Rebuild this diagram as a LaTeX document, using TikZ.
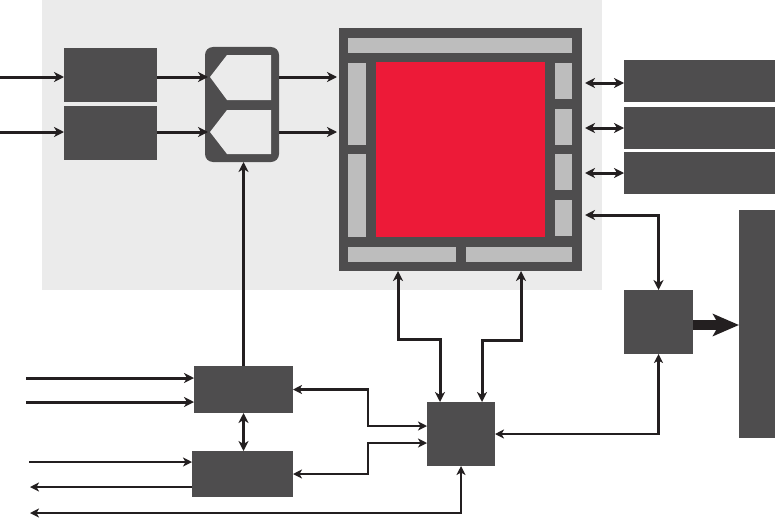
\documentclass[tikz,border=0pt]{standalone}
\usetikzlibrary{arrows.meta,calc}
\definecolor{dk}{RGB}{78,77,78}
\definecolor{lg}{RGB}{189,189,189}
\definecolor{bgc}{RGB}{235,235,235}
\definecolor{rd}{RGB}{237,26,56}
\definecolor{ln}{RGB}{35,31,32}
\newcommand\mybox[6]{\pgfmathsetmacro\myw{#5-#3}\pgfmathsetmacro\myh{#6-#4}%
  \node[#1,minimum width=\myw pt,minimum height=\myh pt] (#2) at (#3,#4) {};}
\begin{document}
\begin{tikzpicture}[x=1pt,y=-1pt,
  blk/.style={fill=dk,draw=none,inner sep=0,outer sep=0,anchor=north west},
  pad/.style={fill=lg,draw=none,inner sep=0,outer sep=0,anchor=north west},
  core/.style={fill=rd,draw=none,inner sep=0,outer sep=0,anchor=north west},
  muxbox/.style={fill=dk,draw=none,inner sep=0,outer sep=0,anchor=north west,rounded corners=8pt},
  tip/.style={Stealth[length=10pt,width=10pt,inset=3pt]},
  conn/.style={draw=ln,line width=3pt,-{Stealth[length=10pt,width=10pt,inset=3pt]}},
  bconn/.style={draw=ln,line width=3pt,{Stealth[length=10pt,width=10pt,inset=3pt]}-{Stealth[length=10pt,width=10pt,inset=3pt]}},
  tconn/.style={draw=ln,line width=2.5pt,-{Stealth[length=9pt,width=9pt,inset=2.5pt]}},
  tbconn/.style={draw=ln,line width=2.5pt,{Stealth[length=9pt,width=9pt,inset=2.5pt]}-{Stealth[length=9pt,width=9pt,inset=2.5pt]}},
  fat/.style={draw=ln,line width=10pt,-{Stealth[length=26pt,width=22pt,inset=6pt]}}
]
\useasboundingbox (0,0) rectangle (775,519);
% background
\fill[bgc] (42,0) rectangle (602,290);
% left boxes
\mybox{blk}{b1}{64}{48}{157}{102}
\mybox{blk}{b2}{64}{106}{157}{160}
% mux
\mybox{muxbox}{mux}{205}{47}{279}{162}
\fill[bgc] (210,77) -- (227,55) -- (271,55) -- (271,100) -- (227,100) -- cycle;
\fill[bgc] (210,132) -- (227,110) -- (271,110) -- (271,154) -- (227,154) -- cycle;
% chip
\mybox{blk}{chip}{339}{28}{582}{271}
\mybox{pad}{ptop}{348}{38}{572}{53}
\mybox{core}{core}{376}{62}{545}{237}
\mybox{pad}{pl1}{348}{63}{366}{145}
\mybox{pad}{pl2}{348}{154}{366}{237}
\mybox{pad}{pr1}{555}{63}{572}{99}
\mybox{pad}{pr2}{555}{109}{572}{145}
\mybox{pad}{pr3}{555}{154}{572}{190}
\mybox{pad}{pr4}{555}{200}{572}{236}
\mybox{pad}{pb1}{348}{247}{456}{262}
\mybox{pad}{pb2}{466}{247}{572}{262}
% right boxes
\mybox{blk}{rb1}{624}{60}{775}{102}
\mybox{blk}{rb2}{624}{107}{775}{149}
\mybox{blk}{rb3}{624}{152}{775}{194}
\mybox{blk}{sq}{624}{290}{693}{354}
\mybox{blk}{bar}{739}{210}{775}{438}
% lower boxes
\mybox{blk}{cpu}{427}{402}{495}{466}
\mybox{blk}{ub}{194}{366}{293}{413}
\mybox{blk}{lb}{192}{451}{293}{497}
% coordinates
\coordinate (ya) at (0,77);
\coordinate (yb) at (0,132);
\coordinate (r1) at (585,83);
\coordinate (r2) at (585,128);
\coordinate (r3) at (585,173);
\coordinate (r4) at (585,215);
\coordinate (yf) at (0,325);
\coordinate (k1) at (398,339);
\coordinate (k2) at (440,339);
\coordinate (k3) at (521,340);
\coordinate (k4) at (482,340);
\coordinate (m1) at (368,426);
\coordinate (m2) at (368,443);
\coordinate (e1) at (26,378);
\coordinate (e2) at (26,402);
\coordinate (e3) at (29,462);
\coordinate (e4) at (30,487);
\coordinate (e5) at (30,513);
% connectors top
\draw[conn] (ya) -- (b1.west |- ya);
\draw[conn] (yb) -- (b2.west |- yb);
\draw[conn] (b1.east |- ya) -- ($(mux.west |- ya)+(3,0)$);
\draw[conn] (b2.east |- yb) -- ($(mux.west |- yb)+(3,0)$);
\draw[conn] (mux.east |- ya) -- ($(chip.west |- ya)+(-2,0)$);
\draw[conn] (mux.east |- yb) -- ($(chip.west |- yb)+(-2,0)$);
\draw[bconn] (r1) -- (rb1.west |- r1);
\draw[bconn] (r2) -- (rb2.west |- r2);
\draw[bconn] (r3) -- (rb3.west |- r3);
\draw[bconn] (r4) -| (sq.north);
\draw[fat] (sq.east |- yf) -- (bar.west |- yf);
\draw[tbconn] (sq.south) |- (cpu.east);
\draw[bconn] (chip.south -| k1) -- (k1) -| (cpu.north -| k2);
\draw[bconn] (chip.south -| k3) -- (k3) -| (cpu.north -| k4);
\draw[tbconn] (cpu.west |- m1) -- (m1) |- (ub.east);
\draw[tbconn] (cpu.west |- m2) -- (m2) |- (lb.east);
\draw[tbconn] (cpu.south) |- (e5);
% lower left
\draw[conn] (e1) -- (ub.west |- e1);
\draw[conn] (e2) -- (ub.west |- e2);
\draw[tconn] (e3) -- (lb.west |- e3);
\draw[tconn] (lb.west |- e4) -- (e4);
\draw[bconn] (ub.south) -- (lb.north -| ub.south);
\draw[conn] (ub.north) -- (mux.south -| ub.north);
\end{tikzpicture}
\end{document}
